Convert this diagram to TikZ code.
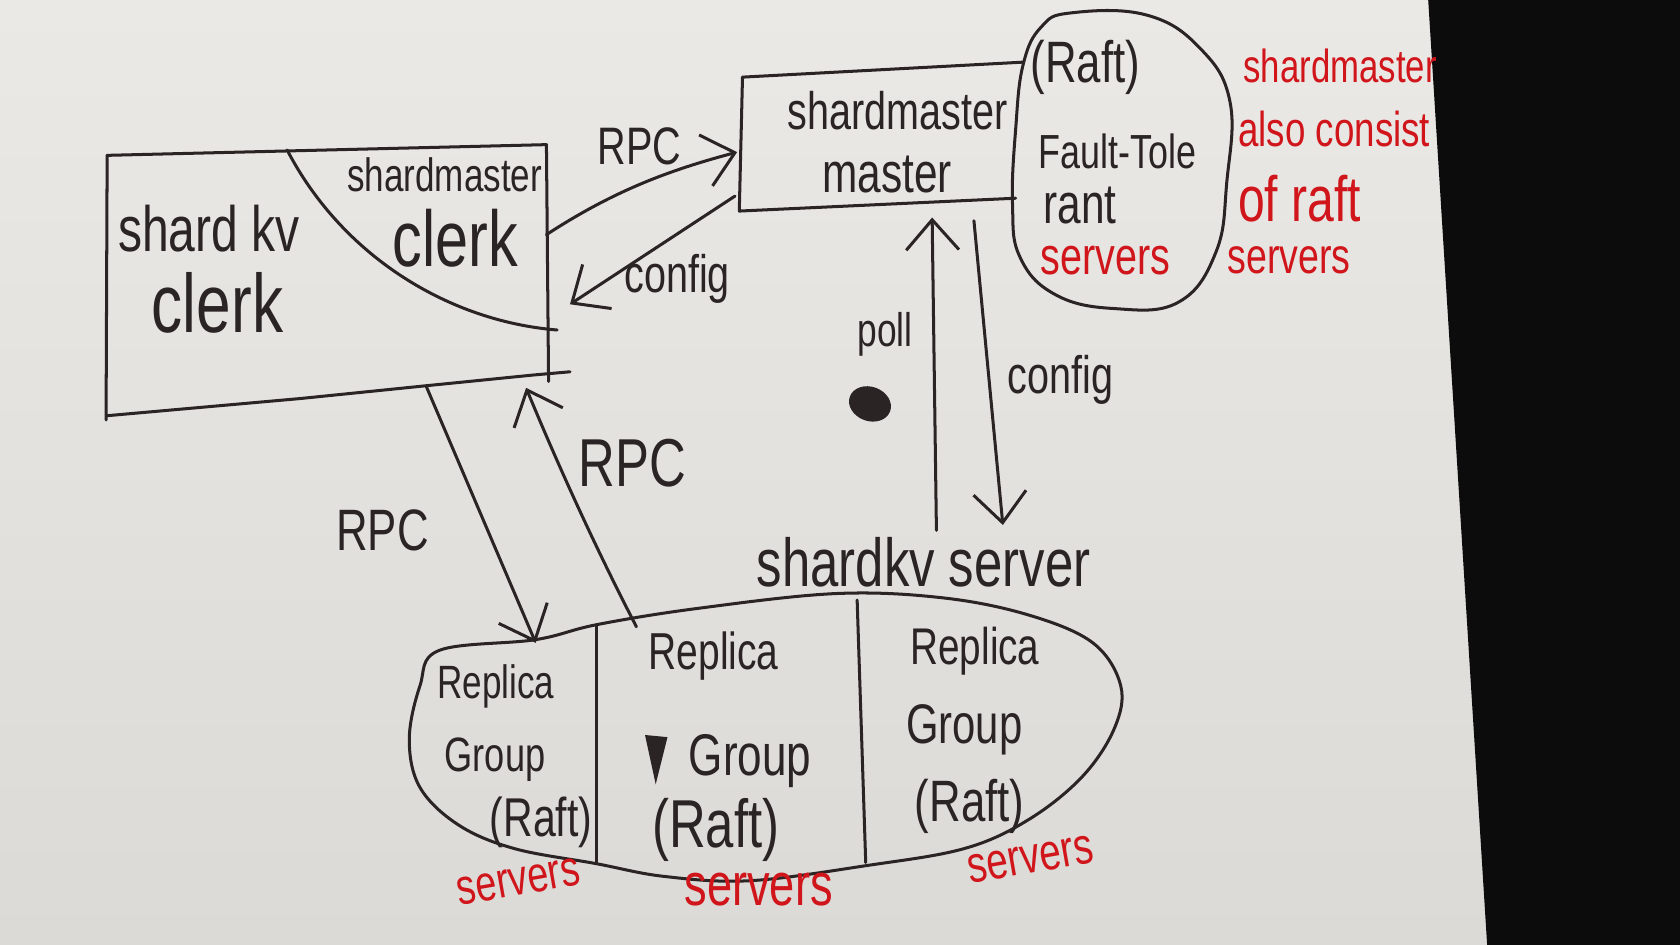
\documentclass[tikz,border=0pt]{standalone}
\usepackage{fontspec}
\setmainfont{Liberation Sans}[FakeStretch=0.75]
\usetikzlibrary{arrows.meta}
\definecolor{ink}{HTML}{2B2424}
\definecolor{redink}{HTML}{D0151B}
\definecolor{papertop}{HTML}{EBE9E6}
\definecolor{paperbot}{HTML}{DCDAD7}
\definecolor{darkbg}{HTML}{0C0C0C}
\begin{document}
\begin{tikzpicture}[x=0.01cm,y=-0.01cm,
  pen/.style={draw=ink,line width=0.8pt,line cap=round,line join=round},
  arr/.style={pen,-{Straight Barb[length=8pt,width=14pt,line width=0.8pt]}},
  lbl/.style={text=ink,inner sep=0pt,font=\fontsize{#1}{#1}\selectfont},
  rlbl/.style={text=redink,inner sep=0pt,font=\fontsize{#1}{#1}\selectfont},
]
\useasboundingbox (0,0) rectangle (1568,882);
% paper and dark background
\shade[top color=papertop,bottom color=paperbot] (0,0) rectangle (1568,882);
\fill[darkbg] (1333,0) -- (1568,0) -- (1568,882) -- (1388,882) -- cycle;

% ---------- left box (shardkv clerk) ----------
\coordinate (lbTL) at (100,145);
\coordinate (lbTR) at (510,135);
\coordinate (lbBL) at (100,388);
\draw[pen] (lbTL) -- (lbTR) -- (512,356);
\draw[pen] (lbTL) -- (99,392);
\draw[pen] (lbBL) -- (280,372) -- (398,360) -- (498,350) -- (532,347);
\draw[pen] (268,140) .. controls (320,240) and (420,300) .. (520,308);
\node[lbl=17] (skv) at (195,213) {shard kv};
\node[lbl=22] (skvc) at (203,283) {clerk};
\node[lbl=12.4] (smc) at (415,163) {shardmaster};
\node[lbl=21] (smcc) at (425,222) {clerk};

% ---------- shardmaster master box ----------
\draw[pen] (693,72) -- (955,58);
\draw[pen] (693,72) -- (690,197) -- (948,185);
\node[lbl=14] (smm) at (838,103) {shardmaster};
\node[lbl=15] (smmm) at (828,163) {master};

% ---------- raft blob ----------
\draw[pen] plot[smooth cycle,tension=0.7] coordinates {
  (1000,12) (1070,14) (1120,45) (1148,95) (1145,170) (1135,235)
  (1100,282) (1040,288) (985,275) (952,240) (945,190) (948,120)
  (955,60) (972,25)};
\node[lbl=15.5] (raft) at (1013,63) {(Raft)};
\node[lbl=12.7] (ft) at (1043,141) {Fault-Tole};
\node[lbl=15] (rant) at (1008,192) {rant};
\node[rlbl=14] (srv0) at (1032,243) {servers};

% red notes
\node[rlbl=12.3,anchor=west] (n1) at (1160,62) {shardmaster};
\node[rlbl=13,anchor=west] (n2) at (1155,120) {also consist};
\node[rlbl=17,anchor=west] (n3) at (1155,185) {of raft};
\node[rlbl=13.3,anchor=west] (n4) at (1145,243) {servers};

% ---------- top arrows ----------
\coordinate (rpcA) at (510,219);
\coordinate (rpcB) at (688,142);
\draw[arr] (rpcA) .. controls (570,180) and (620,160) .. (rpcB);
\node[lbl=14] (rpc1) at (597,137) {RPC};
\coordinate (cfgA) at (686,183);
\coordinate (cfgB) at (532,284);
\draw[arr] (cfgA) -- (cfgB);
\node[lbl=14] (cfg1) at (632,260) {config};

% ---------- poll / config ----------
\coordinate (pollA) at (874,495);
\coordinate (pollB) at (870,203);
\draw[arr] (pollA) -- (pollB);
\node[lbl=12.5] (poll) at (826,312) {poll};
\coordinate (cfg2A) at (909,206);
\coordinate (cfg2B) at (936,490);
\draw[arr] (cfg2A) -- (cfg2B);
\node[lbl=14] (cfg2) at (990,355) {config};
% ink spot
\fill[ink, rotate around={-20:(812,377)}] (812,377) ellipse [x radius=20, y radius=16];

% ---------- shardkv server ----------
\node[lbl=18] (skvs) at (862,525) {shardkv server};
\draw[pen] plot[smooth cycle,tension=0.6] coordinates {
  (410,607) (500,597) (557,583) (650,568) (780,554) (880,558) (960,574)
  (1020,600) (1046,640) (1040,680) (1010,725) (960,765) (900,792)
  (808,808) (700,822) (620,818) (556,806) (480,792) (428,770) (392,735)
  (382,690) (392,640)};
\draw[pen] (557,583) -- (557,805);
\draw[pen] (800,560) -- (808,805);
% ink wedge
\fill[ink] (602,686) -- (623,688) -- (612,732) -- cycle;

\node[lbl=12.4] (r1) at (463,641) {Replica};
\node[lbl=12.8] (g1) at (462,709) {Group};
\node[lbl=14.5] (f1) at (505,768) {(Raft)};
\node[lbl=13.8] (r2) at (666,612) {Replica};
\node[lbl=15.6] (g2) at (700,710) {Group};
\node[lbl=18] (f2) at (668,775) {(Raft)};
\node[lbl=13.7] (r3) at (910,608) {Replica};
\node[lbl=14.8] (g3) at (900,681) {Group};
\node[lbl=15.5] (f3) at (905,753) {(Raft)};
\node[rlbl=13.4,rotate=10] (s1) at (484,823) {servers};
\node[rlbl=16] (s2) at (708,830) {servers};
\node[rlbl=13.7,rotate=10] (s3) at (962,802) {servers};

% ---------- RPC between clerk and groups ----------
\coordinate (rpcC) at (398,361);
\coordinate (rpcD) at (500,600);
\draw[arr] (rpcC) -- (rpcD);
\node[lbl=15.5] (rpc2) at (357,495) {RPC};
\coordinate (rpcE) at (594,585);
\coordinate (rpcF) at (491,362);
\draw[arr] (rpcE) .. controls (550,500) and (515,420) .. (rpcF);
\node[lbl=18] (rpc3) at (590,432) {RPC};
\end{tikzpicture}
\end{document}
